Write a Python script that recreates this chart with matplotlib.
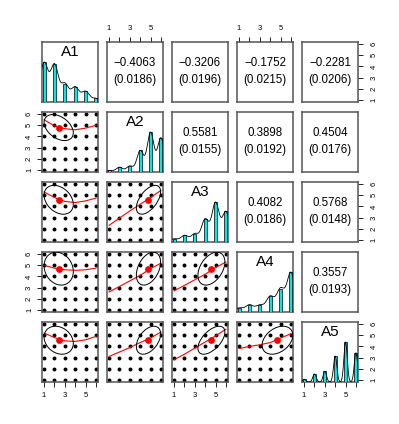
import numpy as np
import matplotlib.pyplot as plt
from matplotlib.patches import Ellipse
from matplotlib.transforms import Affine2D

plt.rcParams['font.family'] = ['Liberation Sans', 'DejaVu Sans']

names = ['A1', 'A2', 'A3', 'A4', 'A5']
levels = [1, 2, 3, 4, 5, 6]

# bar heights relative to the most frequent answer
freq = {
    'A1': [1.00, 0.95, 0.46, 0.38, 0.27, 0.09],
    'A2': [0.04, 0.12, 0.15, 0.54, 1.00, 0.86],
    'A3': [0.08, 0.17, 0.21, 0.58, 1.00, 0.77],
    'A4': [0.10, 0.18, 0.17, 0.39, 0.58, 1.00],
    'A5': [0.07, 0.20, 0.27, 0.65, 1.00, 0.73],
}
# density bandwidth per item
bw = {'A1': 0.37, 'A2': 0.32, 'A3': 0.35, 'A4': 0.38, 'A5': 0.16}

means = [2.41, 4.80, 4.60, 4.70, 4.56]
sds = [1.41, 1.17, 1.30, 1.48, 1.26]

r = [
    [1.0, -0.4063, -0.3206, -0.1752, -0.2281],
    [-0.4063, 1.0, 0.5581, 0.3898, 0.4504],
    [-0.3206, 0.5581, 1.0, 0.4082, 0.5768],
    [-0.1752, 0.3898, 0.4082, 1.0, 0.3557],
    [-0.2281, 0.4504, 0.5768, 0.3557, 1.0],
]
se = [
    [0, 0.0186, 0.0196, 0.0215, 0.0206],
    [0.0186, 0, 0.0155, 0.0192, 0.0176],
    [0.0196, 0.0155, 0, 0.0186, 0.0148],
    [0.0215, 0.0192, 0.0186, 0, 0.0193],
    [0.0206, 0.0176, 0.0148, 0.0193, 0],
]

# loess smooth of row item (y) on column item (x), read at x = 1..6
smooth = {
    (1, 0): [5.50, 4.95, 4.70, 4.60, 4.75, 5.00],
    (2, 0): [5.30, 4.80, 4.45, 4.35, 4.50, 4.75],
    (3, 0): [5.00, 4.75, 4.60, 4.55, 4.60, 4.75],
    (4, 0): [5.20, 4.80, 4.50, 4.45, 4.60, 4.90],
    (2, 1): [2.30, 2.95, 3.60, 4.20, 4.80, 5.45],
    (3, 1): [2.60, 3.10, 3.60, 4.10, 4.70, 5.20],
    (4, 1): [3.10, 3.50, 3.90, 4.35, 4.75, 5.30],
    (3, 2): [2.70, 3.20, 3.70, 4.20, 4.80, 5.30],
    (4, 2): [2.80, 3.30, 3.85, 4.40, 4.95, 5.55],
    (4, 3): [3.80, 4.00, 4.15, 4.35, 4.75, 5.15],
}

W, H = 399, 424
fig = plt.figure(figsize=(W / 100, H / 100), dpi=100)
col_left = [42, 107, 172, 237, 302]
row_top = [42, 112, 182, 252, 322]
pw, ph = 56, 60
lim = (0.8, 6.2)
xlab = ['1', '', '3', '', '5', '']
ylab = [str(v) for v in levels]
tick_kw = dict(length=3.5, width=0.6, labelsize=5.5, colors='black')


def fmt(v):
    return f"{v:.4f}".replace('-', '\u2212')


gx, gy = np.meshgrid(levels, levels)

for i in range(5):
    for j in range(5):
        ax = fig.add_axes([col_left[j] / W, 1 - (row_top[i] + ph) / H, pw / W, ph / H])
        ax.set_xlim(lim)
        ax.set_ylim(lim)
        ax.set_xticks([])
        ax.set_yticks([])
        for s in ax.spines.values():
            s.set_color('#555555')
            s.set_linewidth(1.1)

        if i == j:
            nm = names[i]
            hx = ax.twinx()
            hx.set_ylim(0, 1.5)
            hx.set_yticks([])
            for s in hx.spines.values():
                s.set_visible(False)
            hx.bar(levels, freq[nm], width=0.28, color='#00e8e8',
                   edgecolor='black', linewidth=0.5)
            b = bw[nm]
            xs = np.linspace(1 - 3 * b, 6 + 3 * b, 512)
            dens = np.zeros_like(xs)
            for k, f in zip(levels, freq[nm]):
                dens += f * np.exp(-0.5 * ((xs - k) / b) ** 2)
            hx.plot(xs, dens / dens.max(), color='black', lw=0.6)
            hx.text(0.5, 0.83, nm, transform=hx.transAxes, ha='center',
                    va='center', fontsize=11)
        elif i > j:
            ax.scatter(gx.ravel(), gy.ravel(), s=8, c='black', linewidths=0,
                       clip_on=False, zorder=2)
            ax.plot(levels, smooth[(i, j)], color='red', lw=0.8, zorder=3)
            rr = r[i][j]
            e = Ellipse((0, 0), 2 * np.sqrt(1 + rr), 2 * np.sqrt(1 - rr), angle=45,
                        fill=False, ec='black', lw=0.7, zorder=3,
                        transform=Affine2D().scale(sds[j], sds[i]).translate(means[j], means[i]) + ax.transData)
            ax.add_patch(e)
            ax.scatter([means[j]], [means[i]], s=24, c='red', linewidths=0, zorder=4)
        else:
            ax.text(0.5, 0.645, fmt(r[i][j]), transform=ax.transAxes,
                    ha='center', va='center', fontsize=8.3)
            ax.text(0.5, 0.367, '(' + fmt(se[i][j]) + ')', transform=ax.transAxes,
                    ha='center', va='center', fontsize=8.3)

        # outer axes, alternating like pairs()
        if i == 4 and j % 2 == 0:
            ax.set_xticks(levels, xlab)
            ax.tick_params(axis='x', bottom=True, labelbottom=True, pad=4, **tick_kw)
        if i == 0 and j % 2 == 1:
            ax.set_xticks(levels, xlab)
            ax.tick_params(axis='x', top=True, labeltop=True, bottom=False,
                           labelbottom=False, pad=4, **tick_kw)
        if j == 0 and i % 2 == 1:
            ax.set_yticks(levels, ylab)
            ax.tick_params(axis='y', left=True, labelleft=True, labelrotation=90,
                           pad=3, **tick_kw)
            for t in ax.get_yticklabels():
                t.set_va('center')
        if j == 4 and i % 2 == 0:
            ax.set_yticks(levels, ylab)
            ax.yaxis.set_ticks_position('right')
            ax.tick_params(axis='y', right=True, labelright=True, left=False,
                           labelleft=False, labelrotation=90, pad=5.5, **tick_kw)
            for t in ax.get_yticklabels():
                t.set_va('center')

fig.savefig('out.png', dpi=100)
